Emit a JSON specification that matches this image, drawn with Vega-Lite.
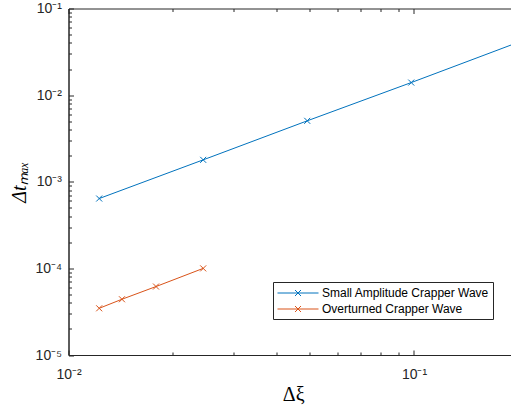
{
  "$schema": "https://vega.github.io/schema/vega-lite/v6.json",
  "width": 449.5,
  "height": 346.5,
  "autosize": {"type": "none"},
  "padding": {"left": 68.5, "top": 8.5, "right": 0, "bottom": 55},
  "background": "white",
  "config": {
    "view": {"stroke": "#262626", "strokeWidth": 1},
    "axis": {
      "domainColor": "#262626",
      "tickColor": "#262626",
      "labelColor": "#262626",
      "labelFont": "Liberation Sans",
      "labelFontSize": 14,
      "grid": false,
      "titleColor": "black",
      "titleFont": "Liberation Serif",
      "titleFontWeight": "normal",
      "titleFontSize": 20
    },
    "legend": {
      "orient": "none",
      "legendX": 204.5,
      "legendY": 273.5,
      "strokeColor": "#262626",
      "fillColor": "white",
      "padding": 4,
      "labelFont": "Liberation Sans",
      "labelFontSize": 12,
      "labelColor": "black",
      "symbolOffset": 14,
      "labelOffset": 17,
      "rowPadding": 3,
      "symbolType": "M-3.154,0H3.154M-0.4615,-0.4615L0.4615,0.4615M-0.4615,0.4615L0.4615,-0.4615",
      "symbolSize": 169,
      "symbolStrokeWidth": 1,
      "symbolFillColor": "transparent",
      "labelLimit": 400
    }
  },
  "data": {
    "values": [
      {"series": "Small Amplitude Crapper Wave", "dxi": 0.01227, "dt": 0.00064},
      {"series": "Small Amplitude Crapper Wave", "dxi": 0.02454, "dt": 0.00179},
      {"series": "Small Amplitude Crapper Wave", "dxi": 0.04909, "dt": 0.00505},
      {"series": "Small Amplitude Crapper Wave", "dxi": 0.09817, "dt": 0.01396},
      {"series": "Small Amplitude Crapper Wave", "dxi": 0.19635, "dt": 0.0395},
      {"series": "Overturned Crapper Wave", "dxi": 0.01227, "dt": 0.0000346},
      {"series": "Overturned Crapper Wave", "dxi": 0.01428, "dt": 0.0000440},
      {"series": "Overturned Crapper Wave", "dxi": 0.01792, "dt": 0.0000617},
      {"series": "Overturned Crapper Wave", "dxi": 0.02454, "dt": 0.0001}
    ]
  },
  "resolve": {"axis": {"x": "independent"}},
  "layer": [
    {
      "mark": {"type": "line", "strokeWidth": 1, "clip": true},
      "encoding": {
        "x": {
          "field": "dxi", "type": "quantitative",
          "scale": {"type": "log", "domain": [0.01, 0.2], "nice": false},
          "axis": {
            "orient": "bottom",
            "title": "Δξ",
            "titlePadding": 3,
            "values": [0.01, 0.02, 0.03, 0.04, 0.05, 0.06, 0.07, 0.08, 0.09, 0.1, 0.2],
            "labelExpr": "abs(log(datum.value)/LN10 - round(log(datum.value)/LN10)) < 0.01 ? '10⁻' + ['⁰','¹','²','³','⁴','⁵'][-round(log(datum.value)/LN10)] : ''",
            "tickSize": {"condition": {"test": "abs(log(datum.value)/LN10 - round(log(datum.value)/LN10)) < 0.01", "value": -5}, "value": -3},
            "labelPadding": 17,
            "labelFlush": false
          }
        },
        "y": {
          "field": "dt", "type": "quantitative",
          "scale": {"type": "log", "domain": [0.00001, 0.1], "nice": false},
          "axis": {
            "title": "Δtₘₐₓ",
            "titleFontStyle": "italic",
            "titlePadding": 5,
            "values": [0.00001, 0.00002, 0.00003, 0.00004, 0.00005, 0.00006, 0.00007, 0.00008, 0.00009, 0.0001, 0.0002, 0.0003, 0.0004, 0.0005, 0.0006, 0.0007, 0.0008, 0.0009, 0.001, 0.002, 0.003, 0.004, 0.005, 0.006, 0.007, 0.008, 0.009, 0.01, 0.02, 0.03, 0.04, 0.05, 0.06, 0.07, 0.08, 0.09, 0.1],
            "labelExpr": "abs(log(datum.value)/LN10 - round(log(datum.value)/LN10)) < 0.01 ? '10⁻' + ['⁰','¹','²','³','⁴','⁵'][-round(log(datum.value)/LN10)] : ''",
            "tickSize": {"condition": {"test": "abs(log(datum.value)/LN10 - round(log(datum.value)/LN10)) < 0.01", "value": -5}, "value": -3},
            "labelPadding": 12,
            "labelFlush": false
          }
        },
        "color": {
          "field": "series", "type": "nominal",
          "scale": {"domain": ["Small Amplitude Crapper Wave", "Overturned Crapper Wave"], "range": ["#0072BD", "#D95319"]},
          "legend": {"title": null}
        }
      }
    },
    {
      "mark": {"type": "point", "shape": "M-1,-1L1,1M-1,1L1,-1", "size": 36, "filled": false, "strokeWidth": 1, "opacity": 1, "clip": true},
      "encoding": {
        "x": {
          "field": "dxi", "type": "quantitative",
          "scale": {"type": "log", "domain": [0.01, 0.2], "nice": false},
          "axis": {
            "orient": "top",
            "title": null,
            "labels": false,
            "domain": false,
            "values": [0.01, 0.02, 0.03, 0.04, 0.05, 0.06, 0.07, 0.08, 0.09, 0.1, 0.2],
            "tickSize": {"condition": {"test": "abs(log(datum.value)/LN10 - round(log(datum.value)/LN10)) < 0.01", "value": -5}, "value": -3}
          }
        },
        "y": {"field": "dt", "type": "quantitative", "scale": {"type": "log", "domain": [0.00001, 0.1], "nice": false}},
        "color": {"field": "series", "type": "nominal", "legend": null}
      }
    }
  ]
}
